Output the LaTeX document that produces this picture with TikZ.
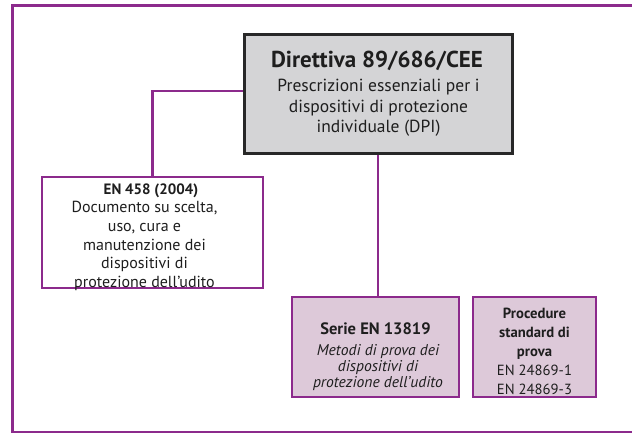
\documentclass[tikz,border=0pt]{standalone}
\usepackage{fontspec}
\setmainfont{PT Sans}
\definecolor{frame}{RGB}{140,42,140}
\definecolor{mauve}{RGB}{221,201,217}
\definecolor{greyfill}{RGB}{212,212,214}
\definecolor{darkline}{RGB}{40,40,40}
\definecolor{txt}{RGB}{30,30,30}
\tikzset{
  box/.style={draw=frame, line width=2.8pt, inner sep=0pt},
  mainbox/.style={draw=darkline, fill=greyfill, line width=3pt, inner sep=0pt},
  label/.style={inner sep=0pt, align=center, text=txt},
  link/.style={draw=frame, line width=2.8pt},
}
\begin{document}
\begin{tikzpicture}[x=1pt,y=-1pt]
\useasboundingbox (0,0) rectangle (632,432);
% outer frame (right side runs off the picture)
\draw[frame, line width=2.4pt] (632,5.5) -- (12.5,5.5) -- (12.5,432.2) -- (632,432.2);

\node[mainbox, minimum width=268pt, minimum height=119pt] (main) at (378,93.5) {};
\node[label, font=\fontsize{17.5}{20.5}\selectfont] (maintxt) at (378.5,94)
 {{\fontsize{23}{24}\selectfont\bfseries Direttiva 89/686/CEE\hspace*{3pt}}\\[3.5pt]
  Prescrizioni essenziali per i\\
  dispositivi di protezione\\
  individuale (DPI)};

\node[box, minimum width=221pt, minimum height=111pt] (en) at (152.5,232.5) {};
\node[label, font=\fontsize{16}{18.7}\selectfont] (entxt) at (144.5,237)
 {\hspace*{13pt}{\fontsize{15}{18.7}\selectfont\bfseries EN 458 (2004)}\\[0pt]
  Documento su scelta,\\
  uso, cura e\\
  manutenzione dei\\
  dispositivi di\\
  protezione dell’udito};

\node[box, fill=mauve, minimum width=167pt, minimum height=100pt] (serie) at (375.5,347) {};
\node[label, font=\fontsize{15.6}{16}\selectfont] (serietxt) at (378,357)
 {{\fontsize{16.5}{16}\selectfont\bfseries Serie EN 13819}\hspace*{5pt}\\[5pt]
  \itshape Metodi di prova dei\\
  \itshape dispositivi di\\
  \itshape protezione dell’udito};

\node[box, fill=mauve, minimum width=123pt, minimum height=100pt] (proc) at (534.5,347) {};
\node[label, font=\fontsize{14.7}{19}\selectfont] (proctxt) at (534.5,351)
 {{\bfseries Procedure}\\
  {\bfseries standard di}\\
  {\bfseries prova}\\
  EN 24869-1\\
  EN 24869-3};

\draw[link] ([yshift=2.5pt]main.west) -| (en.north);
\draw[link] (main.south) -- (main.south |- serie.north);
\end{tikzpicture}
\end{document}
